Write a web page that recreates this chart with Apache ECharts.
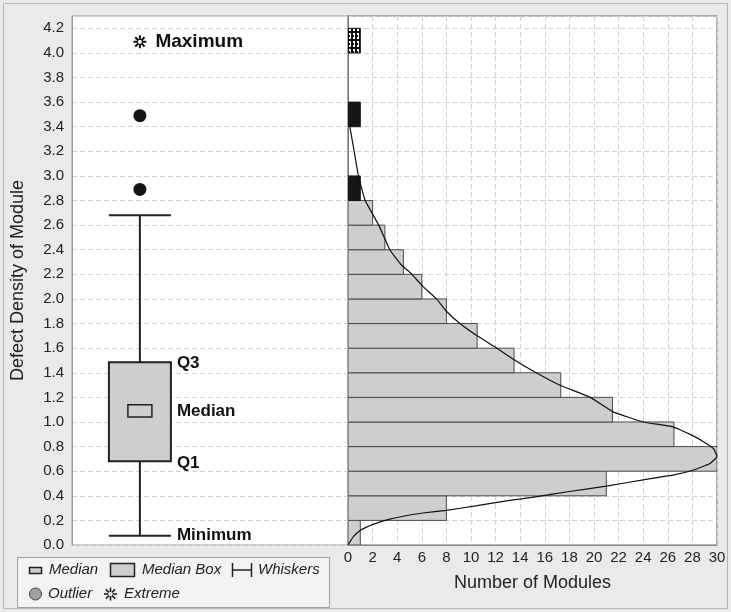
<!DOCTYPE html>
<html><head><meta charset="utf-8">
<script src="https://cdn.jsdelivr.net/npm/echarts@6/dist/echarts.min.js"></script>
<style>html,body{margin:0;padding:0;background:#f4f4f4}#c{width:731px;height:612px}</style>
</head><body><div id="c"></div>
<script>
// ---- data ----
const binStarts = [0.0,0.2,0.4,0.6,0.8,1.0,1.2,1.4,1.6,1.8,2.0,2.2,2.4,2.6,2.8,3.4,4.0];
const binCounts = [1,8,21,30,26.5,21.5,17.3,13.5,10.5,8,6,4.5,3,2,1,1,1];
const binKinds  = ['n','n','n','n','n','n','n','n','n','n','n','n','n','n','o','o','e'];
const binWidth = 0.2;
const boxStats = [0.076, 0.68, 1.09, 1.485, 2.68]; // min, Q1, median, Q3, upper whisker
const medianBand = [1.04, 1.14];
const outlierValues = [3.49, 2.89];
const extremeValues = [4.09];
const curveCount   = [0,0.45,1.0,2.1,3.4,4.8,6.1,8.0,10.5,13.0,15.5,18.0,21.0,24.0,26.5,28.1,29.4,30.0,29.7,28.9,28.1,26.4,24.0,21.6,19.7,17.2,15.3,13.6,12.1,10.5,9.1,8.0,7.2,6.1,5.2,4.3,3.4,2.5,1.4,0.85,0.5,0.15];
const curveDensity = [0,0.07,0.12,0.17,0.21,0.24,0.26,0.282,0.32,0.36,0.395,0.435,0.478,0.53,0.57,0.61,0.66,0.72,0.785,0.84,0.885,0.96,1.0,1.08,1.2,1.3,1.4,1.5,1.6,1.7,1.8,1.9,2.0,2.1,2.2,2.28,2.4,2.6,2.8,3.0,3.2,3.4];
const yMax = 4.3, yStep = 0.2;
const xMax = 30, xStep = 2;
const boxX = 0.246;

// ---- helpers ----
const FONT = '"Liberation Sans", Arial, sans-serif';
const dashed = {show:true, lineStyle:{color:'#d2d2d2', type:[5,3], width:1}};

function makePattern(){
  const c = document.createElement('canvas'); c.width = 4; c.height = 8;
  const g = c.getContext('2d');
  g.fillStyle = '#111'; g.fillRect(0,0,4,8);
  g.fillStyle = '#fff'; g.fillRect(1,1,2,6);
  g.fillStyle = '#111'; g.fillRect(1,3,1,2);
  return c;
}
const pat = {image: makePattern(), repeat: 'repeat'};

function asteriskLines(cx, cy, r, r0, color, lw){
  const out = [];
  for (let i=0;i<8;i++){
    const a = i*Math.PI/4;
    out.push({type:'line', shape:{x1:cx+r0*Math.cos(a), y1:cy+r0*Math.sin(a), x2:cx+r*Math.cos(a), y2:cy+r*Math.sin(a)}, style:{stroke:color, lineWidth:lw}});
  }
  return out;
}

const histData = binStarts.map((s,i)=>[s, s+binWidth, binCounts[i]]);
const curveData = curveCount.map((c,i)=>[c, curveDensity[i]]);

const chart = echarts.init(document.getElementById('c'), null, {renderer:'canvas'});
const option = {
  animation:false,
  backgroundColor:'#eaeaea',
  textStyle:{fontFamily:FONT},
  grid:[
    {left:72, top:16, width:276, height:529, show:true, backgroundColor:'#fff', borderColor:'#9a9a9a', borderWidth:1},
    {left:348, top:16, width:369, height:529, show:true, backgroundColor:'#fff', borderColor:'#9a9a9a', borderWidth:1.5}
  ],
  xAxis:[
    {gridIndex:0, type:'value', min:0, max:1, show:false},
    {gridIndex:1, type:'value', min:0, max:xMax, interval:xStep,
     axisLine:{show:true, lineStyle:{color:'#888'}}, axisTick:{show:false},
     axisLabel:{fontSize:15, color:'#222', margin:5, fontFamily:FONT},
     splitLine:dashed,
     name:'Number of Modules', nameLocation:'middle', nameGap:29,
     nameTextStyle:{fontSize:18, color:'#222', fontFamily:FONT}}
  ],
  yAxis:[
    {gridIndex:0, type:'value', min:0, max:yMax, interval:yStep,
     axisLine:{show:true, lineStyle:{color:'#9a9a9a'}}, axisTick:{show:false},
     axisLabel:{fontSize:15, color:'#222', margin:8, showMaxLabel:false, fontFamily:FONT,
       formatter:v=>(Math.abs(v-yMax)<1e-6?'':v.toFixed(1))},
     splitLine:dashed,
     name:'Defect Density of Module', nameLocation:'middle', nameGap:45,
     nameTextStyle:{fontSize:18, color:'#222', fontFamily:FONT}},
    {gridIndex:1, type:'value', min:0, max:yMax, interval:yStep,
     axisLine:{show:true, lineStyle:{color:'#777'}}, axisTick:{show:false},
     axisLabel:{show:false}, splitLine:dashed}
  ],
  series:[
    {
      type:'custom', name:'Histogram', xAxisIndex:1, yAxisIndex:1,
      data: histData, clip:true,
      renderItem:(params, api)=>{
        const y0 = api.value(0), y1 = api.value(1), c = api.value(2);
        const p0 = api.coord([0, y1]); const p1 = api.coord([c, y0]);
        const k = binKinds[params.dataIndex];
        let style;
        if (k==='n') style = {fill:'#cdcecd', stroke:'#4a4a4a', lineWidth:1};
        else if (k==='o') style = {fill:'#151515', stroke:'#151515', lineWidth:1};
        else style = {fill:pat, stroke:'#111', lineWidth:1};
        return {type:'rect', shape:{x:p0[0], y:p0[1], width:p1[0]-p0[0], height:p1[1]-p0[1]}, style};
      }
    },
    {
      type:'line', name:'Fit', xAxisIndex:1, yAxisIndex:1, data:curveData,
      showSymbol:false, smooth:0.12, lineStyle:{color:'#111', width:1.2}, z:5
    },
    {
      type:'custom', name:'Box', xAxisIndex:0, yAxisIndex:0,
      data:[[boxX, ...boxStats, ...medianBand]],
      renderItem:(params, api)=>{
        const x = api.value(0);
        const pMin = api.coord([x, api.value(1)]);
        const pQ1 = api.coord([x, api.value(2)]);
        const pMed = api.coord([x, api.value(3)]);
        const pQ3 = api.coord([x, api.value(4)]);
        const pMax = api.coord([x, api.value(5)]);
        const pB0 = api.coord([x, api.value(6)]);
        const pB1 = api.coord([x, api.value(7)]);
        const cx = pQ1[0], hw = 31, mw = 12;
        const ls = {stroke:'#222', lineWidth:2};
        const ts = (t, y)=>({type:'text', x:cx+hw+6, y:y, style:{text:t, font:'bold 17px '+FONT, fill:'#111', verticalAlign:'middle', align:'left'}});
        return {type:'group', children:[
          {type:'line', shape:{x1:cx, y1:pQ3[1], x2:cx, y2:pMax[1]}, style:ls},
          {type:'line', shape:{x1:cx, y1:pQ1[1], x2:cx, y2:pMin[1]}, style:ls},
          {type:'line', shape:{x1:cx-hw, y1:pMax[1], x2:cx+hw, y2:pMax[1]}, style:ls},
          {type:'line', shape:{x1:cx-hw, y1:pMin[1], x2:cx+hw, y2:pMin[1]}, style:ls},
          {type:'rect', shape:{x:cx-hw, y:pQ3[1], width:2*hw, height:pQ1[1]-pQ3[1]}, style:{fill:'#cdcecd', stroke:'#222', lineWidth:2}},
          {type:'rect', shape:{x:cx-mw, y:pB1[1], width:2*mw, height:pB0[1]-pB1[1]}, style:{fill:'#cdcecd', stroke:'#222', lineWidth:1.5}},
          ts('Q3', pQ3[1]+1), ts('Median', pMed[1]), ts('Q1', pQ1[1]+2), ts('Minimum', pMin[1])
        ]};
      }
    },
    {
      type:'scatter', name:'Outlier', xAxisIndex:0, yAxisIndex:0,
      data: outlierValues.map(v=>[boxX, v]), symbol:'circle', symbolSize:13,
      itemStyle:{color:'#151515', opacity:1}
    },
    {
      type:'scatter', name:'Extreme', xAxisIndex:0, yAxisIndex:0,
      data: extremeValues.map(v=>[boxX, v]),
      symbol:'path://M7,0L7,5M7,9L7,14M0,7L5,7M9,7L14,7M2,2L5.5,5.5M8.5,8.5L12,12M12,2L8.5,5.5M5.5,8.5L2,12',
      symbolSize:13,
      itemStyle:{color:'rgba(0,0,0,0)', borderColor:'#111', borderWidth:2, opacity:1},
      label:{show:true, position:'right', distance:8, formatter:'Maximum', fontSize:19, fontWeight:'bold', fontFamily:FONT, color:'#111'}
    }
  ],
  graphic:[
    {type:'rect', z:-1, shape:{x:3.5, y:3.5, width:724, height:605}, style:{fill:'none', stroke:'#b4b4b4', lineWidth:1}},
    {type:'rect', shape:{x:17.5, y:557.5, width:312, height:50}, style:{fill:'#f3f3f3', stroke:'#a0a0a0', lineWidth:1}},
    {type:'rect', shape:{x:29.5, y:567.5, width:12, height:6}, style:{fill:'#cdcecd', stroke:'#222', lineWidth:1.5}},
    {type:'text', x:49, y:570, style:{text:'Median', font:'italic 15px '+FONT, fill:'#222', verticalAlign:'middle'}},
    {type:'rect', shape:{x:110.5, y:563.5, width:24, height:13}, style:{fill:'#cdcecd', stroke:'#222', lineWidth:1.5}},
    {type:'text', x:142, y:570, style:{text:'Median Box', font:'italic 15px '+FONT, fill:'#222', verticalAlign:'middle'}},
    {type:'line', shape:{x1:232.5, y1:563, x2:232.5, y2:577}, style:{stroke:'#222', lineWidth:1.5}},
    {type:'line', shape:{x1:251.5, y1:563, x2:251.5, y2:577}, style:{stroke:'#222', lineWidth:1.5}},
    {type:'line', shape:{x1:232.5, y1:570, x2:251.5, y2:570}, style:{stroke:'#222', lineWidth:1.5}},
    {type:'text', x:258, y:570, style:{text:'Whiskers', font:'italic 15px '+FONT, fill:'#222', verticalAlign:'middle'}},
    {type:'circle', shape:{cx:35.5, cy:594, r:6}, style:{fill:'#a0a0a0', stroke:'#444', lineWidth:1}},
    {type:'text', x:48, y:594, style:{text:'Outlier', font:'italic 15px '+FONT, fill:'#222', verticalAlign:'middle'}},
    ...asteriskLines(110.5, 594, 6.5, 2, '#111', 1.5),
    {type:'text', x:124, y:594, style:{text:'Extreme', font:'italic 15px '+FONT, fill:'#222', verticalAlign:'middle'}}
  ]
};
chart.setOption(option);
</script></body></html>
